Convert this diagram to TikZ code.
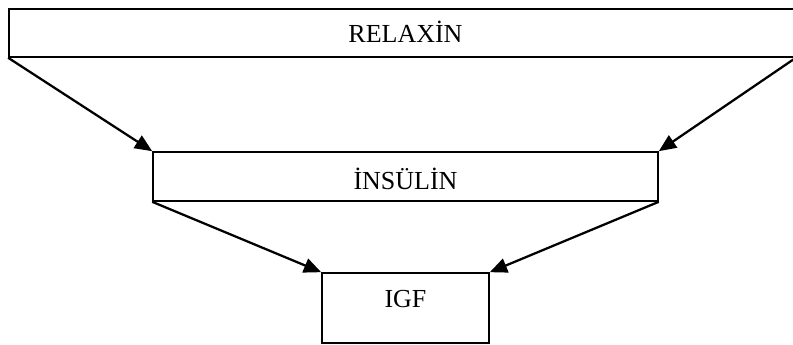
\documentclass[tikz,border=0pt]{standalone}
\usepackage{fontspec}
\setmainfont{Liberation Serif}
\usetikzlibrary{arrows.meta}
\usetikzlibrary{positioning}

\tikzset{
  stage/.style={draw, rectangle, inner sep=0pt, line width=1.2pt},
  stagetext/.style={font=\fontsize{19.5}{23}\selectfont, inner sep=0pt},
  flow/.style={line width=1.7pt, -{Triangle[length=13pt,width=11pt]}},
}

\begin{document}
\begin{tikzpicture}[x=0.75pt, y=-0.75pt]
  \useasboundingbox (0,0) rectangle (793,345);

  % boxes
  \node [stage, minimum width=589.5pt, minimum height=36pt] (relaxin) at (402,33) {};
  \node [stage, minimum width=378.75pt, minimum height=36.75pt] (insulin) at (405.5,176.5) {};
  \node [stage, minimum width=125.25pt, minimum height=52.5pt] (igf) at (405.5,308) {};

  % labels
  \node [stagetext, below=25.5pt of relaxin.north, anchor=base, xshift=2.6pt] (relaxintext) {RELAXİN};
  \node [stagetext, below=28.5pt of insulin.north, anchor=base] (insulintext) {İNSÜLİN};
  \node [stagetext, below=26.25pt of igf.north, anchor=base] (igftext) {IGF};

  % arrows
  \draw [flow] (relaxin.south west) -- (insulin.north west);
  \draw [flow] (relaxin.south east) -- (insulin.north east);
  \draw [flow] (insulin.south west) -- (igf.north west);
  \draw [flow] (insulin.south east) -- (igf.north east);

\end{tikzpicture}
\end{document}
